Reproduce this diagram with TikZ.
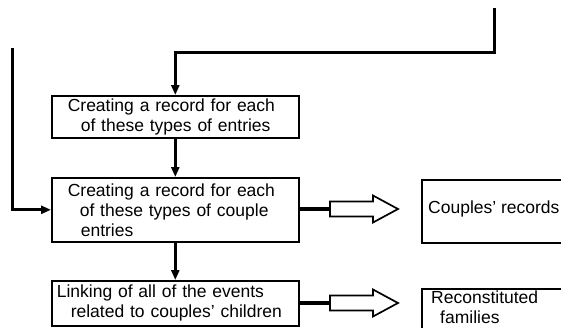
\documentclass[tikz,border=0pt]{standalone}
\usepackage{fontspec}
\setmainfont{Liberation Sans}
\usetikzlibrary{arrows.meta}
\begin{document}
\begin{tikzpicture}[x=1pt,y=-1pt,
  stepbox/.style={draw, line width=1.6pt, inner sep=0pt, anchor=north west,
    align=left, text width=247pt, minimum height=#1,
    font=\fontsize{17.5}{20}\selectfont},
  outbox/.style={draw, line width=1.6pt, inner sep=0pt, anchor=north west,
    minimum width=170pt, minimum height=#1},
  label/.style={inner sep=0pt, anchor=west, align=left,
    font=\fontsize{17.5}{20}\selectfont},
  flow/.style={line width=3pt, -{Triangle[length=10pt,width=8pt]}},
  link/.style={line width=3.2pt},
  hollow/.pic={\draw[line width=1.7pt, fill=white]
    (0,-7.5) -- (43,-7.5) -- (43,-13.5) -- (68,0) -- (43,13.5) -- (43,7.5)
    -- (0,7.5) -- cycle;}]
\useasboundingbox (0,0) rectangle (561,327);

% processing steps
\node[stepbox=42pt] (b1) at (51,95)
  {\hspace*{16pt}Creating a record for each\\\hspace*{29pt}of these types of entries};
\node[stepbox=64pt] (b2) at (51,177)
  {\hspace*{16pt}Creating a record for each\\\hspace*{28pt}of these types of couple\\\hspace*{29pt}entries};
\node[stepbox=45pt] (b3) at (51,280)
  {\hspace*{5pt}Linking of all of the events\\\hspace*{19pt}related to couples' children};

% results (boxes run off the right and bottom edges)
\node[outbox=63pt] (r1) at (421,179) {};
\node[label] (t1) at (428,209) {Couples' records};
\node[outbox=60pt] (r2) at (421,288) {};
\node[label] (t2) at (431,307) {Reconstituted\\\hspace*{9pt}families};

% incoming lines
\coordinate (in1) at (494,8);
\coordinate (c1) at (494,52);
\coordinate (in2) at (12,48);
\draw[flow] (in1) -- (c1) -| (b1.north);
\draw[flow] (in2) |- (b2.west);
\draw[flow] (b1.south) -- (b2.north);
\draw[flow] (b2.south) -- (b3.north);

% output arrows
\coordinate (h1) at (330,209);
\coordinate (h2) at (330,303);
\draw[link] (b2.east |- h1) -- (h1);
\draw[link] (b3.east |- h2) -- (h2);
\pic at (h1) {hollow};
\pic at (h2) {hollow};
\end{tikzpicture}
\end{document}
